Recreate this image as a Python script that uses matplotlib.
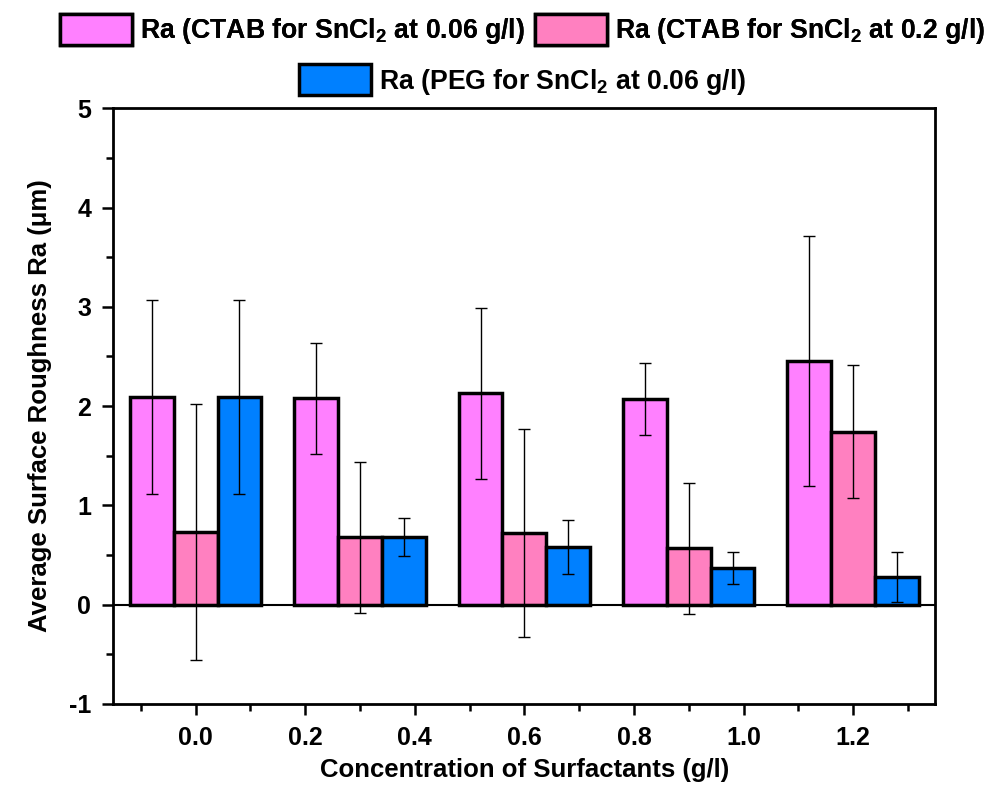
import numpy as np
import matplotlib
matplotlib.use('Agg')
import matplotlib.pyplot as plt
from matplotlib.patches import Patch
from matplotlib.ticker import MultipleLocator

plt.rcParams['font.family'] = ['Liberation Sans', 'DejaVu Sans']
plt.rcParams['font.weight'] = 'bold'
plt.rcParams['axes.unicode_minus'] = False
plt.rcParams['mathtext.fontset'] = 'custom'
plt.rcParams['mathtext.rm'] = 'Liberation Sans:bold'
plt.rcParams['mathtext.bf'] = 'Liberation Sans:bold'
plt.rcParams['mathtext.default'] = 'rm'

# positions des groupes (g/l)
groupes = [0.0, 0.3, 0.6, 0.9, 1.2]

ctab_006 = [2.09, 2.08, 2.13, 2.07, 2.45]
ctab_006_err = [0.98, 0.56, 0.86, 0.36, 1.26]
ctab_02 = [0.73, 0.68, 0.72, 0.57, 1.74]
ctab_02_err = [1.29, 0.76, 1.05, 0.66, 0.67]
peg_006 = [2.09, 0.68, 0.58, 0.37, 0.28]
peg_006_err = [0.98, 0.19, 0.27, 0.16, 0.25]

labels = [r'Ra (CTAB for SnCl$_2$ at 0.06 g/l)',
          r'Ra (CTAB for SnCl$_2$ at 0.2 g/l)',
          r'Ra (PEG for SnCl$_2$ at 0.06 g/l)']
couleurs = ['#FF80FF', '#FF80C0', '#0080FF']

fig = plt.figure(figsize=(9.95, 7.9), dpi=100)
ax = fig.add_axes([0.114, 0.109, 0.826, 0.754])

w = 0.08
x = np.array(groupes)
series = [(ctab_006, ctab_006_err), (ctab_02, ctab_02_err), (peg_006, peg_006_err)]
for i, (vals, errs) in enumerate(series):
    pos = x + (i - 1) * w
    ax.bar(pos, vals, width=w, color=couleurs[i], edgecolor='black', linewidth=2.5, zorder=2)
    ax.errorbar(pos, vals, yerr=errs, fmt='none', ecolor='black', elinewidth=1.0,
                capsize=4.5, capthick=1.0, zorder=3)

ax.axhline(0, color='black', linewidth=1.5, zorder=4)

ax.set_xlim(-0.15, 1.35)
ax.set_ylim(-1, 5)
ax.xaxis.set_minor_locator(MultipleLocator(0.1))
ax.yaxis.set_major_locator(MultipleLocator(1))
ax.yaxis.set_minor_locator(MultipleLocator(0.5))
ax.set_xticks([0.0, 0.2, 0.4, 0.6, 0.8, 1.0, 1.2])
ax.set_xticklabels(['0.0', '0.2', '0.4', '0.6', '0.8', '1.0', '1.2'])
ax.tick_params(which='major', direction='out', length=8, width=1.8, labelsize=18, pad=8)
ax.tick_params(which='minor', direction='out', length=5, width=1.8)
for t in ax.get_xticklabels() + ax.get_yticklabels():
    t.set_fontweight('bold')
for s in ax.spines.values():
    s.set_linewidth(2)

ax.set_xlabel('Concentration of Surfactants (g/l)', fontsize=18.5, fontweight='bold', labelpad=6)
ax.set_ylabel('Average Surface Roughness Ra (μm)', fontsize=18.5, fontweight='bold', labelpad=12)

h = [Patch(facecolor=c, edgecolor='black', linewidth=2.5) for c in couleurs]
leg1 = fig.legend(h[:2], labels[:2], loc='center', bbox_to_anchor=(0.525, 0.962), ncol=2,
                  frameon=False, fontsize=19.2, handlelength=2.7, handleheight=1.4,
                  columnspacing=0.38, handletextpad=0.3)
leg2 = fig.legend(h[2:], labels[2:], loc='center', bbox_to_anchor=(0.525, 0.898), ncol=1,
                  frameon=False, fontsize=19.2, handlelength=2.7, handleheight=1.4,
                  handletextpad=0.3)
fig.add_artist(leg1)

plt.savefig('out.png', dpi=100, facecolor='white')
